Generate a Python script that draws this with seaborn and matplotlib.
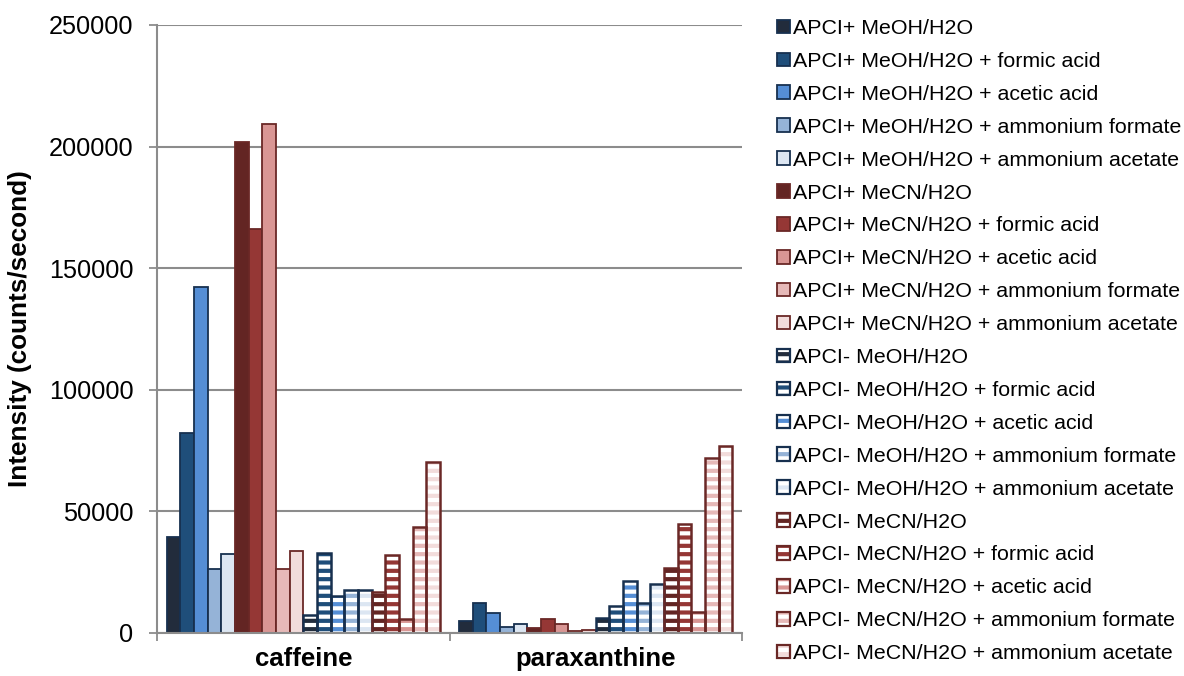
import matplotlib
matplotlib.use("Agg")
import matplotlib.pyplot as plt
from matplotlib.patches import Patch
from matplotlib.legend_handler import HandlerTuple
import seaborn as sns
import pandas as pd

compounds = ["caffeine", "paraxanthine"]
conditions = [
    "APCI+ MeOH/H2O",
    "APCI+ MeOH/H2O + formic acid",
    "APCI+ MeOH/H2O + acetic acid",
    "APCI+ MeOH/H2O + ammonium formate",
    "APCI+ MeOH/H2O + ammonium acetate",
    "APCI+ MeCN/H2O",
    "APCI+ MeCN/H2O + formic acid",
    "APCI+ MeCN/H2O + acetic acid",
    "APCI+ MeCN/H2O + ammonium formate",
    "APCI+ MeCN/H2O + ammonium acetate",
    "APCI- MeOH/H2O",
    "APCI- MeOH/H2O + formic acid",
    "APCI- MeOH/H2O + acetic acid",
    "APCI- MeOH/H2O + ammonium formate",
    "APCI- MeOH/H2O + ammonium acetate",
    "APCI- MeCN/H2O",
    "APCI- MeCN/H2O + formic acid",
    "APCI- MeCN/H2O + acetic acid",
    "APCI- MeCN/H2O + ammonium formate",
    "APCI- MeCN/H2O + ammonium acetate",
]
caffeine_values = [39500, 82400, 142100, 26500, 32400, 202000, 166000, 209400, 26200, 33800,
                   7400, 33100, 15400, 17600, 17600, 16900, 32100, 5800, 43700, 70200]
paraxanthine_values = [5100, 12400, 8300, 2600, 3500, 2200, 5900, 3500, 800, 1400,
                       6300, 11000, 21200, 12400, 20000, 26900, 44900, 8500, 71800, 76900]
y_ticks = [0, 50000, 100000, 150000, 200000, 250000]

blue_shades = ["#222C3C", "#1F4E7A", "#558ED5", "#95B3D7", "#DCE6F2"]
red_shades = ["#632523", "#953735", "#D99694", "#E6B9B8", "#F2DCDB"]
fill_colors = blue_shades + red_shades + blue_shades + red_shades
blue_edge = "#17304F"
red_edge = "#6A2826"
edge_colors = [blue_edge] * 5 + [red_edge] * 5 + [blue_edge] * 5 + [red_edge] * 5
hatched = [False] * 10 + [True] * 10

rows = []
for comp, vals in zip(compounds, [caffeine_values, paraxanthine_values]):
    for cond, v in zip(conditions, vals):
        rows.append({"compound": comp, "condition": cond, "value": v})
df = pd.DataFrame(rows)

sns.set_theme(style="white")
plt.rcParams["font.family"] = ["Liberation Sans", "DejaVu Sans"]
plt.rcParams["hatch.linewidth"] = 3.0
for k in ["text.color", "axes.labelcolor", "xtick.color", "ytick.color"]:
    plt.rcParams[k] = "black"

fig = plt.figure(figsize=(11.84, 6.76), dpi=100)
ax = fig.add_axes([157 / 1184, 1 - 633 / 676, (742 - 157) / 1184, (633 - 25) / 676])

grid_c = "#8C8C8C"
ax.set_axisbelow(True)
ax.yaxis.grid(True, color=grid_c, linewidth=1.5)

pal = dict(zip(conditions, fill_colors))
width = 0.935

# layer 1: fills (solid or striped)
sns.barplot(data=df, x="compound", y="value", hue="condition", hue_order=conditions,
            order=compounds, palette=pal, saturation=1, width=width, errorbar=None,
            legend=False, ax=ax)
for i, cont in enumerate(ax.containers):
    for p in cont:
        if hatched[i]:
            p.set_facecolor("white")
            p.set_edgecolor(fill_colors[i])
            p.set_hatch("--")
            p.set_linewidth(0)
        else:
            p.set_facecolor(fill_colors[i])
            p.set_edgecolor(edge_colors[i])
            p.set_linewidth(1.3)
n_first = len(ax.containers)

# layer 2: outlines of striped bars
sns.barplot(data=df, x="compound", y="value", hue="condition", hue_order=conditions,
            order=compounds, palette=pal, saturation=1, width=width, errorbar=None,
            fill=False, legend=False, ax=ax)
for j, cont in enumerate(ax.containers[n_first:]):
    for p in cont:
        if hatched[j]:
            p.set_edgecolor(edge_colors[j])
            p.set_linewidth(1.8)
        else:
            p.set_visible(False)

ax.set_xlim(-0.5, 1.5)
ax.set_ylim(0, 250000)
ax.set_yticks(y_ticks)
ax.set_yticklabels([str(t) for t in y_ticks])
ax.tick_params(axis="y", labelsize=18.2, length=6, width=1.3,
               color=grid_c, direction="out", pad=11, left=True)
ax.set_xticks([0, 1])
ax.set_xticklabels(compounds, fontsize=18.5, fontweight="bold")
ax.tick_params(axis="x", which="major", length=0, pad=10)
ax.set_xticks([-0.5, 0.5, 1.5], minor=True)
ax.tick_params(axis="x", which="minor", length=6, width=1.3, color=grid_c, direction="out", bottom=True)
ax.set_xlabel("")
ax.set_ylabel("Intensity (counts/second)", fontsize=18.8, fontweight="bold", labelpad=12)
for s in ["top", "right"]:
    ax.spines[s].set_visible(False)
for s in ["left", "bottom"]:
    ax.spines[s].set_color(grid_c)
    ax.spines[s].set_linewidth(1.5)

handles = []
for i, cond in enumerate(conditions):
    if hatched[i]:
        h = (Patch(facecolor="white", edgecolor=fill_colors[i], hatch="--", linewidth=0),
             Patch(facecolor="none", edgecolor=edge_colors[i], linewidth=1.6))
    else:
        h = Patch(facecolor=fill_colors[i], edgecolor=edge_colors[i], linewidth=1.3)
    handles.append(h)

fig.legend(handles, conditions, loc="upper left", bbox_to_anchor=(777 / 1184, 1 - 19 / 676),
           frameon=False, fontsize=15.4, handlelength=0.6, handleheight=0.6,
           handletextpad=0.15, labelspacing=0.65, borderpad=0, borderaxespad=0,
           handler_map={tuple: HandlerTuple(ndivide=1)})

fig.savefig("out.png", dpi=100)
